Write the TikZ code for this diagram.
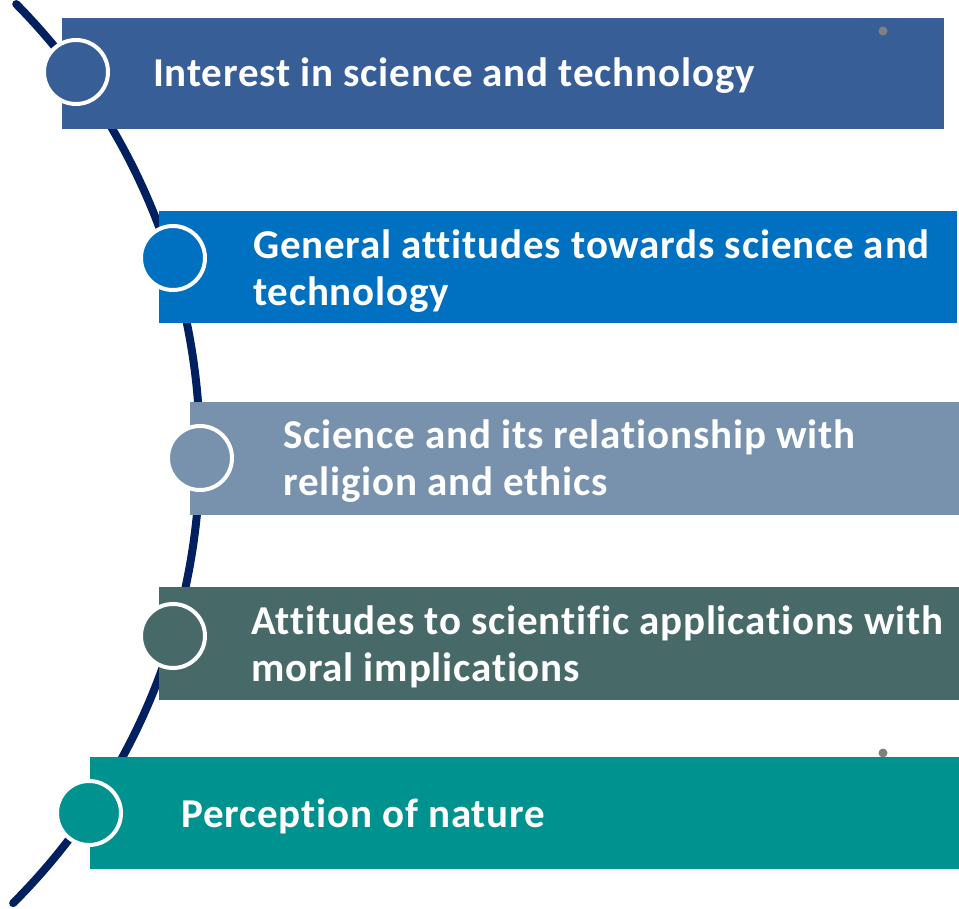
\documentclass[tikz,border=0pt]{standalone}
\usepackage{fontspec}
\setmainfont{Carlito}[Ligatures=NoCommon,LetterSpace=2.0]
\definecolor{navy}{RGB}{0,32,96}
\definecolor{barA}{RGB}{56,94,151}
\definecolor{barB}{RGB}{0,112,192}
\definecolor{barC}{RGB}{120,145,173}
\definecolor{barD}{RGB}{71,106,104}
\definecolor{barE}{RGB}{0,146,143}
\definecolor{dotgrey}{RGB}{128,128,128}
\begin{document}
\begin{tikzpicture}[x=1pt,y=-1pt,
  arcline/.style={draw=navy,line width=8pt,line cap=round},
  bullet/.style={circle,draw=white,line width=4pt,minimum size=64pt,inner sep=0pt},
  label/.style={anchor=west,text=white,font=\fontsize{41}{47}\selectfont\bfseries,align=left,inner sep=0pt},
  dot/.style={circle,fill=dotgrey,minimum size=9pt,inner sep=0pt}]
\useasboundingbox (0,0) rectangle (959,909);
% timeline arc behind the bars
\coordinate (arcC) at (-438,452);
\draw[arcline] (arcC) ++(-44.6:638) arc[start angle=-44.6,end angle=45,radius=638];
% bars
\fill[barA] (62,18) rectangle (944,129);
\fill[barB] (159,211) rectangle (957,323);
\fill[barC] (190,402) rectangle (959,515);
\fill[barD] (159,587) rectangle (959,700);
\fill[barE] (90,757) rectangle (959,869);
% bullets on the arc
\node[bullet,fill=barA] (cA) at (76,72) {};
\node[bullet,fill=barB] (cB) at (173,258) {};
\node[bullet,fill=barC] (cC) at (200,458) {};
\node[bullet,fill=barD] (cD) at (173,636) {};
\node[bullet,fill=barE] (cE) at (89,813) {};
% labels
\node[label] (tA) at (153,76) {Interest in science and technology};
\node[label] (tB) at (253,271) {General attitudes towards science and\\technology};
\node[label] (tC) at (283,461) {Science and its relationship with\\religion and ethics};
\node[label] (tD) at (251,647) {Attitudes to scientific applications with\\moral implications};
\node[label] (tE) at (181,816) {Perception of nature};
% small handle dots
\node[dot] (dA) at (883,31) {};
\node[dot] (dE) at (883,753) {};
\end{tikzpicture}
\end{document}
